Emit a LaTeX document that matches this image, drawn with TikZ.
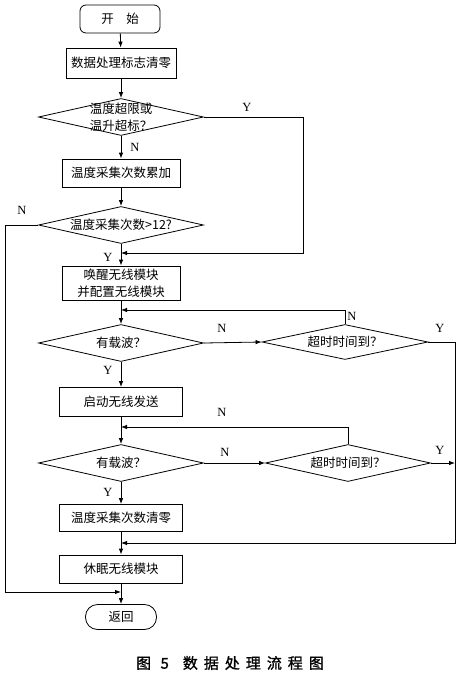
\documentclass[tikz,border=0pt]{standalone}
\usepackage{fontspec}
\setmainfont{Liberation Serif}
\newfontfamily\cjk{Noto Sans CJK SC}
\newfontfamily\cjkcap[LetterSpace=40,FakeBold=1.2]{Noto Sans CJK SC}
\usetikzlibrary{shapes.geometric,arrows.meta}
\begin{document}
\begin{tikzpicture}[x=1pt, y=-1pt, line width=0.8pt,
    every node/.style={font=\fontsize{12.5}{17}\selectfont\cjk},
    procbox/.style={draw, rectangle, inner sep=0pt},
    termbox/.style={draw, rectangle, rounded corners=#1, inner sep=0pt},
    decide/.style={draw, diamond, aspect=4.5, inner sep=0pt, minimum width=165, minimum height=37},
    yn/.style={font=\fontsize{12.5}{12}\selectfont\rmfamily},
    flow/.style={-{Latex[length=6pt,width=4.5pt]}}]

  \useasboundingbox (0,0) rectangle (463,675);

  % main column
  \node[termbox=6pt, minimum width=80, minimum height=28] (start) at (120,19) {开\quad 始};
  \node[procbox, minimum width=110, minimum height=30] (clearflag) at (121,63) {数据处理标志清零};
  \node[decide, inner sep=-6pt, align=center] (overtemp) at (121,117) {温度超限或\\温升超标？};
  \node[procbox, minimum width=118, minimum height=28] (addcount) at (121,173) {温度采集次数累加};
  \node[decide] (countchk) at (121,225) {温度采集次数>12?};
  \node[procbox, minimum width=118, minimum height=34, align=center] (wakeup) at (121,283) {唤醒无线模块\\并配置无线模块};
  \node[decide] (carrierA) at (121,343) {有载波？};
  \node[procbox, minimum width=123, minimum height=29] (send) at (121,402) {启动无线发送};
  \node[decide] (carrierB) at (121,463) {有载波？};
  \node[procbox, minimum width=123, minimum height=27] (clearcount) at (121,518) {温度采集次数清零};
  \node[procbox, minimum width=123, minimum height=28] (sleep) at (121,569) {休眠无线模块};
  \node[termbox=12pt, minimum width=71, minimum height=25] (return) at (121,617) {返回};

  % timeout checks
  \node[decide, minimum width=166, minimum height=35] (timeoutA) at (345,342) {超时时间到？};
  \node[decide] (timeoutB) at (348,463) {超时时间到？};

  % junctions
  \coordinate (joinA) at (121,253);
  \coordinate (joinB) at (121,310);
  \coordinate (joinC) at (121,427);
  \coordinate (joinD) at (121,543);
  \coordinate (joinE) at (121,592);
  \coordinate (rightrail) at (455,463);

  \draw[flow] (start) -- (clearflag);
  \draw[flow] (clearflag) -- (overtemp);
  \draw[flow] (overtemp) -- (addcount);
  \draw[flow] (addcount) -- (countchk);
  \draw[flow] (countchk) -- (wakeup);
  \draw[flow] (wakeup) -- (carrierA);
  \draw[flow] (carrierA) -- (send);
  \draw[flow] (send) -- (carrierB);
  \draw[flow] (carrierB) -- (clearcount);
  \draw[flow] (clearcount) -- (sleep);
  \draw[flow] (sleep) -- (return);

  \draw[flow] (overtemp.east) -- (303,117) -- (303,253) -- (joinA);
  \draw[flow] (countchk.west) -- (5,225) -- (5,592) -- (joinE);

  \draw[flow] (carrierA.east) -- (timeoutA.west);
  \draw[flow] (timeoutA.north) |- (joinB);
  \draw[flow] (timeoutA.east) -- (455,342) -- (455,543) -- (joinD);

  \draw[flow] (carrierB.east) -- (timeoutB.west);
  \draw[flow] (timeoutB.north) |- (joinC);
  \draw[flow] (timeoutB.east) -- (rightrail);

  % Y / N labels
  \node[yn] (y1) at (247,107) {Y};
  \node[yn] (n1) at (135,147) {N};
  \node[yn] (n2) at (22,210) {N};
  \node[yn] (y2) at (108,257) {Y};
  \node[yn] (n3) at (222,328) {N};
  \node[yn] (n4) at (352,316) {N};
  \node[yn] (y3) at (440,328) {Y};
  \node[yn] (y4) at (108,370) {Y};
  \node[yn] (n5) at (222,412) {N};
  \node[yn] (n6) at (225,452) {N};
  \node[yn] (y5) at (440,450) {Y};
  \node[yn] (y6) at (108,492) {Y};

  % caption
  \node[font=\fontsize{15}{15}\selectfont\cjkcap] (caption) at (230,663) {图 5\hspace{14pt}数据处理流程图};
\end{tikzpicture}
\end{document}
